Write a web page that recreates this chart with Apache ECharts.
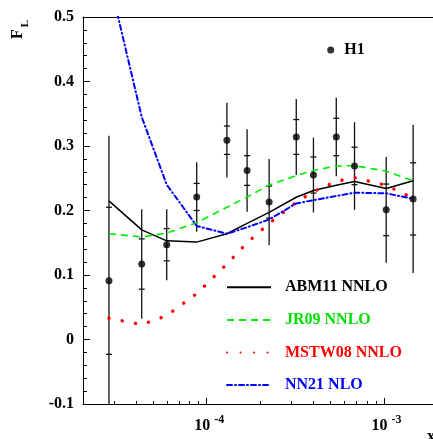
<!DOCTYPE html>
<html><head><meta charset="utf-8">
<script src="https://cdn.jsdelivr.net/npm/echarts@6/dist/echarts.min.js"></script>
<style>html,body{margin:0;padding:0;background:#fff}#c{width:433px;height:439px}</style>
</head><body><div id="c"></div>
<script>
// H1 data (x, F_L, stat error, total error)
const xH1   = [2.81e-5, 4.30e-5, 5.95e-5, 8.78e-5, 1.30e-4, 1.69e-4, 2.25e-4, 3.20e-4, 4.00e-4, 5.38e-4, 6.82e-4, 1.029e-3, 1.46e-3];
const fH1   = [0.091, 0.117, 0.147, 0.221, 0.309, 0.262, 0.213, 0.314, 0.255, 0.314, 0.269, 0.201, 0.218];
const statH1 = [0.114, 0.039, 0.025, 0.021, 0.022, 0.023, 0.025, 0.027, 0.028, 0.029, 0.029, 0.040, 0.056];
const totH1  = [0.225, 0.085, 0.055, 0.054, 0.058, 0.064, 0.067, 0.059, 0.058, 0.061, 0.068, 0.082, 0.115];
// theory curves evaluated at the H1 x values
const abm11  = [0.215, 0.170, 0.153, 0.151, 0.164, 0.180, 0.197, 0.2205, 0.231, 0.239, 0.245, 0.234, 0.246];
const jr09   = [0.164, 0.159, 0.165, 0.181, 0.205, 0.221, 0.2395, 0.254, 0.262, 0.269, 0.2695, 0.261, 0.246];
const mstw08 = [0.033, 0.023, 0.037, 0.071, 0.117, 0.150, 0.180, 0.2125, 0.2295, 0.245, 0.251, 0.239, 0.219];
const nn21   = [0.56, 0.345, 0.240, 0.176, 0.164, 0.174, 0.186, 0.211, 0.216, 0.2225, 0.2276, 0.2267, 0.218];
// axes
const xMajor = [1e-4, 1e-3];
const xMinorDecades = [1e-5, 1e-4, 1e-3];

const FONT = 'Liberation Serif';
const L = v => Math.log10(v);
const xmin = -4.6977, xmax = -2.7236;
const minorVals = [];
xMinorDecades.forEach(d => { for (let k = 2; k <= 9; k++) { const v = L(k * d); if (v > xmin + 0.005 && v < xmax) minorVals.push(v); } });

const chart = echarts.init(document.getElementById('c'), null, {renderer: 'canvas'});
const lblStyle = {fontFamily: FONT, fontWeight: 'bold', color: '#000'};
const baseX = {type: 'value', min: xmin, max: xmax, gridIndex: 0, splitLine: {show: false}, axisPointer: {show: false}};
const pts = arr => xH1.map((x, i) => [L(x), arr[i]]);

chart.setOption({
  animation: false,
  backgroundColor: '#fff',
  grid: {left: 83, right: 0, top: 17, bottom: 35},
  xAxis: [
    Object.assign({}, baseX, {
      position: 'bottom',
      axisLine: {show: true, onZero: false, lineStyle: {color: '#000', width: 1}},
      axisTick: {show: true, inside: true, length: 6, customValues: xMajor.map(L), lineStyle: {color: '#000'}},
      axisLabel: {show: true, customValues: xMajor.map(L), margin: 9.7,
        formatter: v => '{b|10}{s|' + Math.round(v) + '}',
        rich: {
          b: Object.assign({fontSize: 16, lineHeight: 20, verticalAlign: 'bottom', padding: [0, 0, 0, 5]}, lblStyle),
          s: Object.assign({fontSize: 12, lineHeight: 4, verticalAlign: 'top', padding: [0, 0, 0, 4]}, lblStyle)
        }}
    }),
    Object.assign({}, baseX, {
      position: 'bottom',
      axisLine: {show: false, onZero: false},
      axisTick: {show: true, inside: true, length: 3, customValues: minorVals, lineStyle: {color: '#000'}},
      axisLabel: {show: false}
    }),
    Object.assign({}, baseX, {
      position: 'top',
      axisLine: {show: true, onZero: false, lineStyle: {color: '#000', width: 1}},
      axisTick: {show: false}, axisLabel: {show: false}
    })
  ],
  yAxis: {
    type: 'value', min: -0.1, max: 0.5, interval: 0.1,
    axisLine: {show: true, onZero: false, lineStyle: {color: '#000', width: 1}},
    axisTick: {show: true, inside: true, length: 7, lineStyle: {color: '#000'}},
    minorTick: {show: true, splitNumber: 5, length: 4, lineStyle: {color: '#000'}},
    splitLine: {show: false}, minorSplitLine: {show: false},
    axisLabel: Object.assign({fontSize: 16, margin: 9, formatter: v => String(Number(v.toFixed(1)))}, lblStyle)
  },
  legend: [
    {
      data: [
        {name: 'ABM11 NNLO', textStyle: {color: '#000'}},
        {name: 'JR09 NNLO', textStyle: {color: '#00e000'}},
        {name: 'MSTW08 NNLO', textStyle: {color: '#ff0000'}},
        {name: 'NN21 NLO', textStyle: {color: '#0000ff'}}
      ],
      orient: 'vertical', left: 226, top: 279.3, itemWidth: 44, itemHeight: 16, itemGap: 16.6,
      selectedMode: false, padding: 0,
      itemStyle: {opacity: 0},
      textStyle: {fontFamily: FONT, fontWeight: 'bold', fontSize: 16, lineHeight: 16, padding: [0, 0, 0, 9]}
    },
    {
      data: [{name: 'H1', icon: 'circle'}],
      left: 327.2, top: 42, itemWidth: 7, itemHeight: 7, selectedMode: false, padding: 0,
      itemStyle: {color: '#000'},
      textStyle: {fontFamily: FONT, fontWeight: 'bold', fontSize: 16, lineHeight: 16, color: '#000', padding: [0, 0, 0, 5]}
    }
  ],
  graphic: [
    {type: 'text', x: 17.5, y: 34, rotation: Math.PI / 2, style: {text: 'F', font: 'bold 16px "Liberation Serif"', fill: '#000', align: 'center', verticalAlign: 'middle'}},
    {type: 'text', x: 25, y: 23.5, rotation: Math.PI / 2, style: {text: 'L', font: 'bold 11px "Liberation Serif"', fill: '#000', align: 'center', verticalAlign: 'middle'}},
    {type: 'text', x: 427, y: 429, style: {text: 'x', font: 'bold 16px "Liberation Serif"', fill: '#000', align: 'left', verticalAlign: 'top'}}
  ],
  series: [
    {
      type: 'custom', name: 'H1err', clip: true, z: 2,
      data: xH1.map((x, i) => [L(x), fH1[i], statH1[i], totH1[i]]),
      encode: {x: 0, y: 1},
      renderItem: (params, api) => {
        const x = api.value(0), y = api.value(1), s = api.value(2), t = api.value(3);
        const lo = Math.max(y - t, -0.1), hi = Math.min(y + t, 0.5);
        const p1 = api.coord([x, lo]), p2 = api.coord([x, hi]);
        const a = api.coord([x, y - s]), b = api.coord([x, y + s]);
        const st = {stroke: '#111', lineWidth: 1.3};
        return {type: 'group', children: [
          {type: 'line', shape: {x1: p1[0], y1: p1[1], x2: p2[0], y2: p2[1]}, style: st},
          {type: 'line', shape: {x1: a[0] - 3, y1: a[1], x2: a[0] + 3, y2: a[1]}, style: st},
          {type: 'line', shape: {x1: b[0] - 3, y1: b[1], x2: b[0] + 3, y2: b[1]}, style: st}
        ]};
      }
    },
    {type: 'line', name: 'ABM11 NNLO', data: pts(abm11), symbol: 'none', z: 3,
      lineStyle: {color: '#000', width: 1.5}, itemStyle: {color: '#000'}},
    {type: 'line', name: 'JR09 NNLO', data: pts(jr09), symbol: 'none', z: 3,
      lineStyle: {color: '#00ee00', width: 1.6, type: [7, 5]}, itemStyle: {color: '#00ee00'}},
    {type: 'line', name: 'MSTW08 NNLO', data: pts(mstw08), symbol: 'none', z: 3,
      lineStyle: {color: '#ff0000', width: 3.4, type: [0.1, 13.4], cap: 'round'}, itemStyle: {color: '#ff0000'}},
    {type: 'line', name: 'NN21 NLO', data: pts(nn21), symbol: 'none', z: 3,
      lineStyle: {color: '#0000ff', width: 2, type: [5, 3, 1, 3], cap: 'round'}, itemStyle: {color: '#0000ff'}},
    {type: 'scatter', name: 'H1', data: pts(fH1), symbol: 'circle', symbolSize: 7, z: 4,
      itemStyle: {color: '#000'}}
  ]
});
</script></body></html>
